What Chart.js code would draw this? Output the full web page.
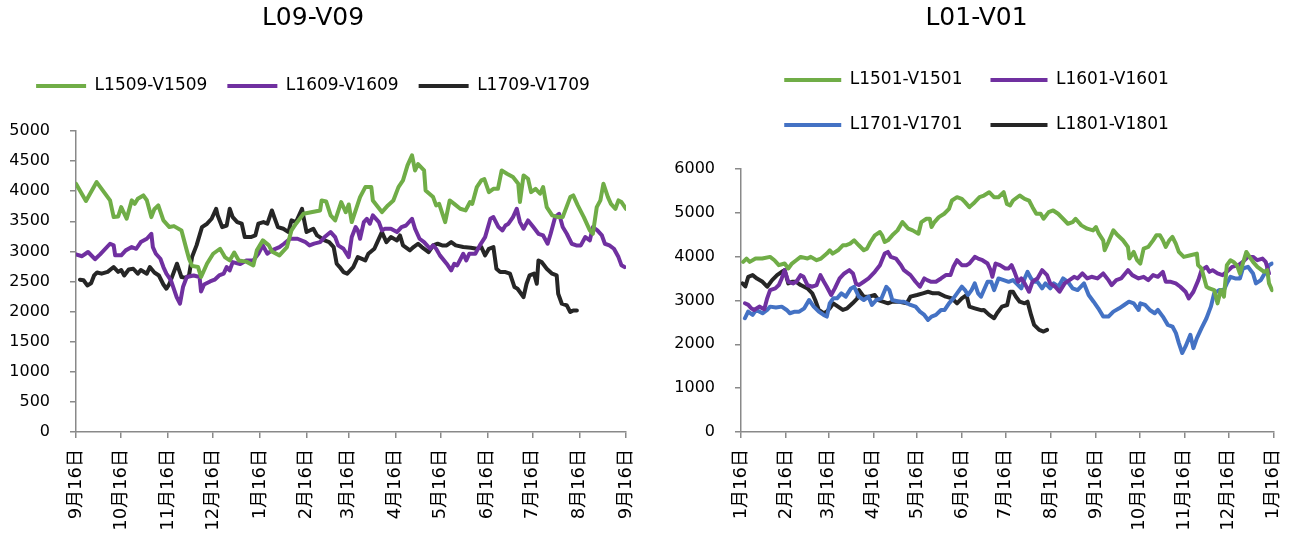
<!DOCTYPE html>
<html>
<head>
<meta charset="utf-8">
<script src="https://cdn.jsdelivr.net/npm/chart.js@4"></script>
<style>
  html, body { margin: 0; padding: 0; background: #fff; }
  #wrap { position: relative; width: 1306px; height: 535px; }
  .box { position: absolute; top: 0; height: 535px; }
  #leftBox { left: 0; width: 660px; }
  #rightBox { left: 660px; width: 646px; }
</style>
</head>
<body>
<div id="wrap">
  <div class="box" id="leftBox"><canvas id="chartL"></canvas></div>
  <div class="box" id="rightBox"><canvas id="chartR"></canvas></div>
</div>
<script>
// x axis = days since the first tick (16th of the first month)
const leftTickDays = [0, 30, 61, 91, 122, 153, 181, 212, 242, 273, 303, 334, 365];
const leftTickLabels = ["9月16日", "10月16日", "11月16日", "12月16日", "1月16日", "2月16日", "3月16日",
  "4月16日", "5月16日", "6月16日", "7月16日", "8月16日", "9月16日"];
const rightTickDays = [0, 31, 60, 91, 121, 152, 182, 213, 244, 274, 305, 335, 366];
const rightTickLabels = ["1月16日", "2月16日", "3月16日", "4月16日", "5月16日", "6月16日", "7月16日",
  "8月16日", "9月16日", "10月16日", "11月16日", "12月16日", "1月16日"];

// [day, value]
const l1509 = [[0,4124],[6.6,3837],[13.7,4151],[22.6,3847],[25,3570],[28,3580],[30,3736],[33.6,3542],[37,3847],[39,3790],[41,3875],[44.7,3930],[47,3850],[50,3570],[52,3700],[54.6,3764],[58,3515],[62,3404],[65,3420],[70,3349],[73.5,3017],[75,2880],[77,2760],[81,2740],[83,2574],[87,2800],[91,2961],[95.6,3044],[99,2900],[102,2850],[105,2980],[108,2850],[113,2830],[117.7,2768],[120,3017],[124,3183],[128,3100],[130,3000],[135,2934],[140,3072],[143,3349],[146,3460],[151,3625],[156,3650],[162,3680],[163,3847],[166,3830],[169,3598],[172,3515],[176,3820],[179,3650],[181,3780],[183,3487],[188.5,3902],[192,4068],[196,4068],[197,3847],[203,3653],[207,3764],[210.6,3847],[214,4068],[217,4179],[220,4428],[223,4594],[225,4345],[227,4450],[231,4345],[232,4013],[237,3902],[239,3764],[241,3790],[245,3487],[248,3847],[251,3790],[255,3708],[258.5,3680],[261.5,3820],[263,3790],[266,4068],[269,4179],[271,4200],[274,3985],[277,4040],[280,4040],[282.5,4345],[286,4290],[290,4234],[293.5,4124],[294.6,3820],[297,4262],[300,4207],[302,3985],[305,4040],[308,3958],[310,4068],[312.4,3736],[316,3598],[320,3570],[323,3570],[328,3902],[330,3930],[333,3764],[337,3570],[341,3349],[343,3293],[345.6,3736],[348,3847],[350,4124],[353,3902],[355,3790],[358,3708],[360,3847],[362,3820],[365,3708]];
const l1609 = [[0,2950],[4,2920],[8,2990],[12.6,2870],[16,2950],[22.6,3127],[25,3100],[26,2934],[30,2934],[33,3017],[37,3072],[40,3044],[43,3155],[47,3210],[50,3293],[51,3072],[53,2961],[56,2878],[58,2740],[60,2630],[63,2520],[66.8,2242],[69,2131],[71,2408],[73.5,2574],[78,2600],[82,2574],[83,2335],[85,2450],[89,2501],[92,2530],[95,2600],[98,2630],[100,2740],[102,2684],[104,2823],[109,2789],[113,2850],[117.7,2850],[121,2961],[124,3100],[127,2961],[130,3017],[135,3072],[138,3127],[142,3210],[147,3210],[152,3160],[155,3100],[158,3130],[162,3155],[165,3238],[169,3321],[172,3238],[174,3100],[177.5,3044],[181,2906],[183,3238],[185.6,3404],[187,3350],[188.5,3210],[191,3487],[193,3542],[195,3460],[197,3598],[201,3487],[203,3349],[205,3376],[209,3376],[213,3321],[216,3404],[219,3430],[223,3542],[225,3376],[228,3210],[231,3155],[235,3044],[237,3100],[239,3044],[241.5,2934],[246,2795],[249,2684],[251,2795],[253,2768],[257,2961],[259,2850],[261,2961],[265,2961],[268,3100],[271.5,3238],[275,3542],[277,3570],[280.4,3404],[283,3349],[285,3430],[287,3460],[290,3570],[292.5,3708],[294.6,3487],[297,3376],[300,3515],[303.5,3404],[306.9,3293],[310,3265],[313,3127],[315,3293],[318,3570],[320.6,3625],[323,3404],[325.7,3293],[329,3127],[332,3100],[335,3100],[338,3238],[341,3183],[343,3404],[346,3349],[349,3265],[351,3127],[354,3100],[357,3044],[360,2906],[362,2768],[364,2740]];
const l1709 = [[2.6,2530],[5,2520],[7.5,2435],[10,2470],[12,2601],[14,2650],[17,2630],[21,2660],[25,2740],[28,2660],[30,2690],[32,2601],[35,2700],[38,2712],[41,2630],[43,2690],[47,2630],[49,2740],[52,2650],[55,2600],[58,2450],[60,2380],[62,2460],[67,2795],[70,2574],[73,2560],[75,2601],[77,2906],[80,3100],[83.6,3404],[87,3460],[90,3542],[93,3708],[94,3600],[97,3404],[100,3430],[102,3708],[104,3570],[107,3487],[110,3460],[112,3238],[116,3238],[119,3265],[121,3460],[124.4,3487],[127,3460],[130,3680],[132,3540],[134,3404],[137.6,3376],[141,3321],[143,3515],[146,3487],[150,3708],[151,3570],[153,3321],[157.5,3376],[160,3265],[165,3183],[168,3155],[171,3072],[173,2795],[175,2740],[177.5,2657],[180,2630],[184,2740],[187,2906],[192,2850],[194,2961],[198,3044],[200,3155],[203,3321],[206,3155],[209,3238],[213,3183],[215,3265],[217,3100],[221.6,3017],[224,3072],[227,3127],[229.5,3072],[234,2989],[237,3100],[240,3127],[243,3100],[246,3100],[249,3155],[252,3100],[257,3072],[262,3060],[266,3044],[269,3072],[271.5,2934],[274,3044],[277,3072],[279,2712],[281.5,2657],[285,2657],[288,2630],[291,2408],[293,2380],[297,2242],[299,2463],[301,2601],[304,2630],[305.8,2463],[306.9,2850],[309,2823],[312.4,2712],[316,2630],[319,2601],[320,2297],[322.4,2131],[325.7,2103],[328,1993],[330,2020],[332.4,2020]];

const l1501 = [[1.5,3881],[3.8,3957],[6,3881],[10,3957],[14.6,3957],[20,3995],[23,3919],[26,3806],[30,3843],[32.5,3730],[35,3843],[38,3919],[41,3995],[45.7,3957],[48,3995],[52,3919],[55,3957],[59,4070],[61,4146],[63,4070],[66.7,4146],[70,4260],[72,4260],[75,4297],[77.8,4373],[81,4260],[84.4,4146],[86.6,4184],[89,4335],[92,4487],[95.5,4562],[97,4487],[98.8,4335],[101,4373],[104,4487],[107.6,4600],[111,4789],[113,4714],[115,4638],[118,4600],[122,4524],[124,4789],[127.5,4865],[129.8,4865],[131,4676],[133,4789],[136,4903],[139.7,4979],[143,5092],[145,5281],[148.5,5357],[151.8,5319],[154,5243],[157,5130],[160.7,5243],[164,5357],[167,5395],[170.6,5470],[173.9,5357],[177,5357],[180.6,5470],[182.8,5205],[185,5168],[187,5281],[191.6,5395],[195,5319],[198,5281],[200.4,5130],[203,4979],[206,4979],[208,4865],[211.5,5016],[214.6,5054],[218,4979],[221.4,4865],[224.7,4751],[228,4789],[230,4865],[234,4714],[238,4638],[242,4600],[244,4676],[246,4524],[249,4373],[250,4146],[252.6,4335],[256,4600],[259,4487],[262.6,4373],[266,4222],[267,3957],[270,4108],[272.3,3919],[274.5,3843],[276.8,4184],[280,4222],[283.3,4373],[285.5,4487],[288,4487],[290,4373],[292,4222],[294.4,4373],[296.6,4449],[298.9,4297],[301,4108],[304.4,3995],[309,4033],[313.4,4070],[314.2,3806],[316.6,3730],[320,3314],[322,3276],[325.3,3238],[327.6,2935],[329.8,3238],[332,3087],[334,3806],[336.5,3919],[338.6,3881],[341,3800],[343,3617],[345,3843],[347.4,4108],[349.6,3995],[352,3881],[355,3768],[359.6,3654],[361.8,3692],[363,3390],[365,3238]];
const l1601 = [[2.7,2936],[5,2900],[7,2822],[9,2784],[12.6,2860],[16,2800],[18,3049],[20,3238],[23.6,3276],[26,3352],[28,3503],[30,3692],[32.5,3427],[35.8,3390],[38,3427],[41,3579],[43,3541],[45.7,3352],[49,3314],[52,3352],[54.6,3579],[57,3427],[59,3314],[62,3125],[64.5,3276],[67.8,3503],[71,3617],[74.5,3692],[77,3617],[79,3390],[81,3352],[84.4,3427],[87.7,3503],[92,3654],[95.5,3806],[98.8,4070],[101,4108],[103,3995],[106.5,3957],[110,3806],[112,3692],[116.5,3579],[120,3427],[123,3314],[126,3503],[128,3465],[130.8,3427],[134,3427],[137.5,3503],[140.8,3579],[144,3579],[146,3768],[148.5,3919],[151.8,3806],[155,3806],[157,3843],[160.7,3995],[163,3957],[166,3919],[169.5,3843],[171.5,3700],[172.8,3541],[175,3843],[178,3806],[181.7,3730],[184,3730],[186,3806],[188,3654],[190.5,3427],[192.7,3503],[195,3390],[198,3200],[200.4,3427],[203.8,3503],[207,3692],[210.4,3579],[212.6,3390],[216,3314],[219,3200],[222.5,3390],[225.8,3465],[229,3541],[231.4,3503],[234.7,3617],[238,3503],[241,3541],[245,3503],[249,3617],[252.6,3465],[254.8,3352],[258,3465],[261.3,3503],[266,3692],[269,3579],[273.3,3503],[276.8,3541],[280,3465],[283.3,3579],[286.6,3541],[290,3654],[292,3427],[295.5,3427],[298.9,3390],[302,3314],[305.6,3200],[307.8,3049],[311,3200],[314.4,3465],[316.6,3692],[320,3768],[322,3654],[324.2,3692],[327.6,3617],[331,3579],[334,3654],[337.6,3768],[342,3806],[345,3881],[348.5,3995],[352,3995],[355,3919],[358.5,3957],[360.7,3881],[363,3617]];
const l1701 = [[2.7,2595],[4.9,2746],[8,2671],[10.4,2784],[14.8,2709],[18,2784],[20,2860],[24,2840],[28,2860],[31.4,2784],[33.6,2709],[37,2746],[40,2746],[43.5,2822],[46.8,3011],[50,2860],[53.5,2746],[56.8,2671],[59,2633],[61,2936],[63.4,3049],[66,3049],[69,3163],[72,3087],[75.6,3276],[77.8,3314],[81,3087],[84.4,3011],[87.7,3087],[90,2898],[93,3011],[96.6,3049],[99.9,3314],[102,3238],[104,3011],[108.7,2973],[112,2973],[116.5,2898],[120,2860],[123,2746],[126,2671],[128.6,2557],[131,2633],[134,2671],[137.5,2784],[140,2784],[143,2936],[146,3049],[148.5,3163],[151.8,3314],[154,3238],[156,3125],[158.5,3238],[160.7,3390],[163,3163],[165,3087],[167,3238],[169.5,3427],[172,3427],[174,3238],[177,3503],[180.6,3465],[184,3427],[187,3465],[190.5,3352],[192.7,3276],[195,3503],[197,3654],[199.4,3503],[201.5,3427],[203.8,3427],[207,3276],[209.3,3390],[212.6,3276],[215,3390],[218.2,3314],[221.4,3503],[224.7,3427],[228,3276],[231.4,3238],[235.8,3390],[239,3125],[242.4,2973],[245.6,2822],[249,2633],[252.6,2633],[256,2746],[260,2822],[263.4,2898],[266.7,2973],[270,2936],[273.3,2784],[274.5,2936],[277.8,2898],[281,2784],[284.4,2709],[286.6,2784],[290,2633],[293.4,2444],[296.6,2406],[299,2255],[301,2028],[303.3,1801],[305.6,1952],[308.9,2217],[311,1914],[313.4,2141],[316.6,2368],[320,2595],[323,2860],[325.3,3163],[328.7,3238],[332,3238],[334,3390],[336.5,3541],[339.7,3503],[343,3503],[345,3730],[348.5,3768],[352,3617],[354,3390],[357.4,3465],[360.7,3654],[363,3806],[365,3843]];
const l1801 = [[1,3390],[3,3320],[5,3541],[8,3579],[11,3500],[14.8,3427],[18,3314],[21.4,3465],[24.8,3579],[28,3654],[30,3692],[32.5,3390],[35,3427],[38,3427],[41,3352],[45.7,3276],[49,3163],[51,3011],[53.5,2784],[56.8,2709],[59,2746],[61,2822],[63.4,2936],[66.7,2860],[70,2784],[73,2822],[76.7,2936],[80,3049],[81,3238],[84.4,3087],[88,3087],[92,3125],[94.4,3011],[97.6,2973],[101,2936],[104,2973],[109,2973],[114,2936],[116.5,3087],[121,3125],[125,3163],[128.6,3200],[132,3163],[136,3163],[140.8,3087],[145,3049],[148.5,2936],[151.8,3049],[155,3125],[157,2860],[160.7,2822],[165,2780],[167,2784],[170.6,2671],[174,2595],[176,2709],[179.4,2860],[183,2898],[185,3200],[187,3200],[189,3087],[191.6,2973],[195,2936],[197,2973],[199.4,2671],[201.5,2444],[205,2330],[208,2292],[210.4,2330]];

const GREEN = "#70ad47", PURPLE = "#7030a0", BLACK = "#262626", BLUE = "#4472c4";
const AXIS = "#898989";
const LATIN = "'DejaVu Sans', sans-serif";
const CJK = "'DejaVu Sans', 'Noto Sans CJK SC', sans-serif";

// keeps the legend box at a fixed height so the plot starts where it should
function legendHeight(h) {
  return {
    id: "legendHeight",
    beforeLayout(chart) {
      const lg = chart.legend;
      if (!lg || lg._fixed) return;
      const fit = lg.fit.bind(lg);
      lg.fit = function () { fit(); this.height = h; };
      lg._fixed = true;
    }
  };
}

function makeChart(id, cfg) {
  return new Chart(document.getElementById(id), {
    type: "line",
    data: {
      datasets: cfg.series.map(s => ({
        label: s.label,
        data: s.data.map(p => ({ x: p[0], y: p[1] })),
        borderColor: s.color,
        backgroundColor: s.color,
        borderWidth: 4,
        pointRadius: 0,
        tension: 0,
        borderJoinStyle: "round",
        borderCapStyle: "round"
      }))
    },
    options: {
      responsive: true,
      maintainAspectRatio: false,
      animation: false,
      layout: { padding: { left: 0, right: cfg.padRight, top: 0, bottom: 0 } },
      plugins: {
        title: {
          display: true,
          text: cfg.title,
          color: "#000",
          font: { family: LATIN, size: 25, weight: "normal" },
          padding: { top: 3, bottom: cfg.titleBottom }
        },
        legend: {
          labels: {
            usePointStyle: true,
            pointStyle: "line",
            pointStyleWidth: cfg.boxW,
            color: "#000",
            font: { family: LATIN, size: 17 },
            padding: cfg.legendPad
          }
        },
        tooltip: { enabled: false }
      },
      scales: {
        x: {
          type: "linear",
          min: 0,
          max: cfg.tickDays[cfg.tickDays.length - 1],
          afterBuildTicks: s => { s.ticks = cfg.tickDays.map(v => ({ value: v })); },
          afterFit: s => { s.height = 103; },
          ticks: {
            autoSkip: false,
            minRotation: 90,
            maxRotation: 90,
            padding: 11,
            color: "#000",
            font: { family: CJK, size: 18 },
            callback: (v, i) => cfg.tickLabels[i]
          },
          grid: { drawOnChartArea: false, drawTicks: true, tickLength: 6, color: AXIS, lineWidth: 1.5 },
          border: { color: AXIS, width: 1.5 }
        },
        y: {
          min: 0,
          max: cfg.yMax,
          afterFit: s => { s.width = cfg.yWidth; },
          ticks: {
            stepSize: cfg.yStep,
            padding: 20,
            color: "#000",
            font: { family: LATIN, size: 16 },
            callback: v => String(v)
          },
          grid: { drawOnChartArea: false, drawTicks: true, tickLength: 6, color: AXIS, lineWidth: 1.5 },
          border: { color: AXIS, width: 1.5 }
        }
      }
    },
    plugins: [legendHeight(cfg.legendH)]
  });
}

makeChart("chartL", {
  title: "L09-V09",
  titleBottom: 24.5,
  boxW: 50,
  legendPad: 20,
  legendH: 73.5,
  padRight: 34,
  yWidth: 76,
  yMax: 5000,
  yStep: 500,
  tickDays: leftTickDays,
  tickLabels: leftTickLabels,
  series: [
    { label: "L1509-V1509", data: l1509, color: GREEN },
    { label: "L1609-V1609", data: l1609, color: PURPLE },
    { label: "L1709-V1709", data: l1709, color: BLACK }
  ]
});

makeChart("chartR", {
  title: "L01-V01",
  titleBottom: 10.5,
  boxW: 57,
  legendPad: 28,
  legendH: 125.5,
  padRight: 13,
  yWidth: 81,
  yMax: 6000,
  yStep: 1000,
  tickDays: rightTickDays,
  tickLabels: rightTickLabels,
  series: [
    { label: "L1501-V1501", data: l1501, color: GREEN },
    { label: "L1601-V1601", data: l1601, color: PURPLE },
    { label: "L1701-V1701", data: l1701, color: BLUE },
    { label: "L1801-V1801", data: l1801, color: BLACK }
  ]
});
</script>
</body>
</html>
